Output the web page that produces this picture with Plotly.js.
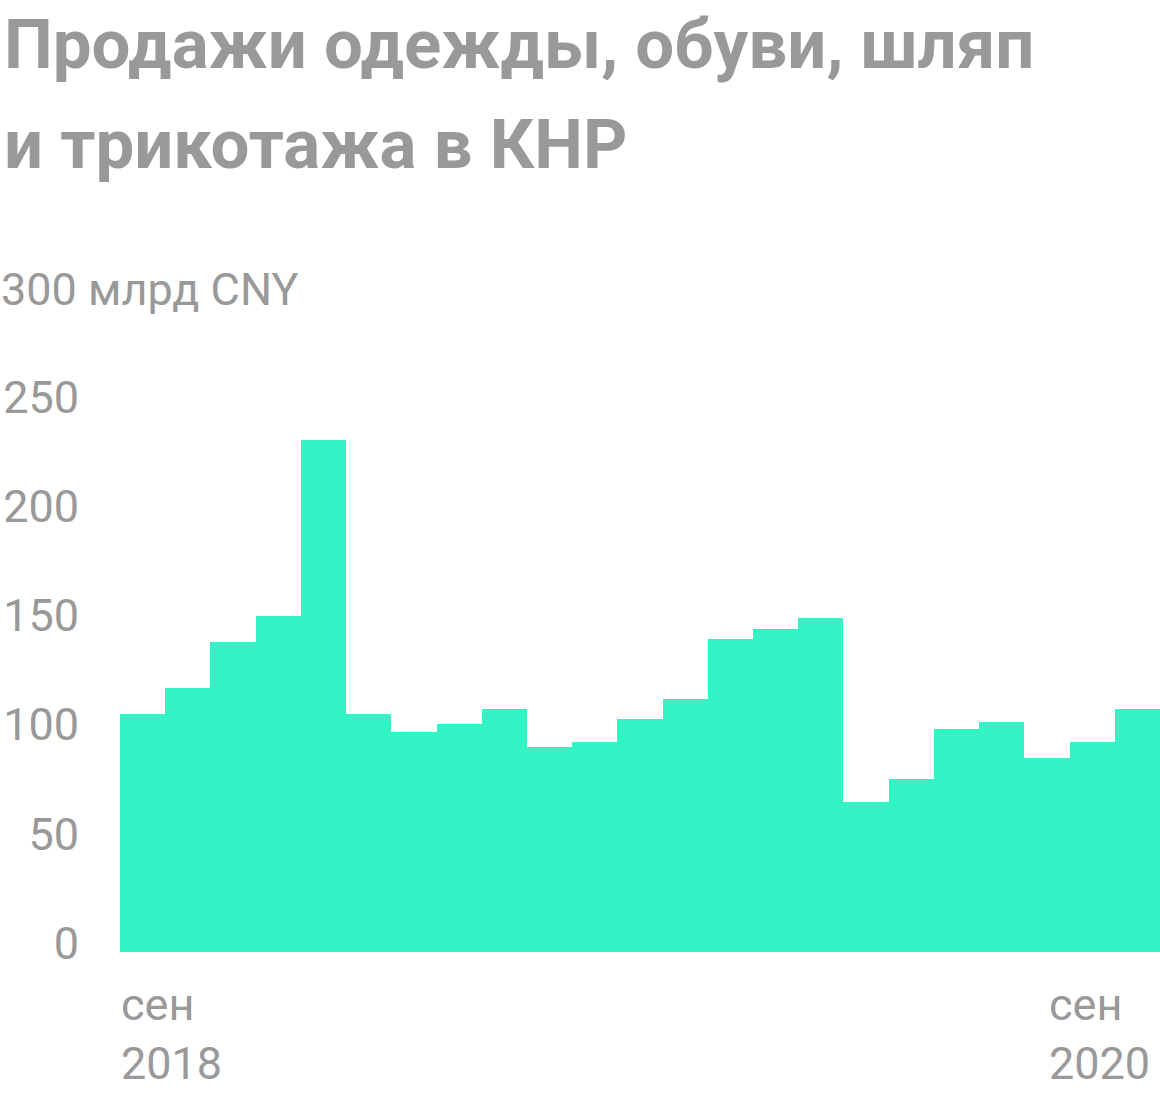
<!DOCTYPE html>
<html>
<head>
<meta charset="utf-8">
<script src="https://cdn.plot.ly/plotly-3.0.1.min.js"></script>
<style>
  html, body { margin: 0; padding: 0; background: #fff; }
  #chart { width: 1160px; height: 1096px; }
</style>
</head>
<body>
<div id="chart"></div>
<script>
// Months (Jan–Feb are reported together)
const categories = [
  'сен 2018', 'окт 2018', 'ноя 2018', 'дек 2018', 'янв–фев 2019',
  'мар 2019', 'апр 2019', 'май 2019', 'июн 2019', 'июл 2019', 'авг 2019',
  'сен 2019', 'окт 2019', 'ноя 2019', 'дек 2019', 'янв–фев 2020',
  'мар 2020', 'апр 2020', 'май 2020', 'июн 2020', 'июл 2020', 'авг 2020', 'сен 2020'
];
// Sales, bn CNY
const sales = [
  109.1, 120.8, 142.2, 154.1, 234.6,
  109.1, 100.8, 104.4, 111.4, 93.8, 96.1,
  106.6, 116.1, 143.4, 148.0, 152.9,
  68.7, 79.4, 102.1, 105.4, 89.0, 96.1, 111.4
];
const yTickVals = [0, 50, 100, 150, 200, 250];
const yTickText = ['0', '50', '100', '150', '200', '250'];
const yTopLabel = '300 млрд CNY';
const yTopValue = 300;
const xStartLabel = 'сен<br>2018';
const xEndLabel = 'сен<br>2020';
const titleLines = ['Продажи одежды, обуви, шляп', 'и трикотажа в КНР'];

const xIdx = categories.map((_, i) => i);
const n = categories.length;

const grey = '#999999';
const font = 'Roboto, "Noto Sans", sans-serif';
const plotTop = 297, plotBottom = 952, plotH = plotBottom - plotTop;
const pxToPaperY = p => (plotBottom - p) / plotH;

const trace = {
  type: 'bar',
  x: xIdx,
  y: sales,
  customdata: categories,
  hovertemplate: '%{customdata}: %{y} млрд CNY<extra></extra>',
  marker: { color: '#33F4C4', line: { width: 0 } }
};

const titleFont = { family: font, size: 69, weight: 700, color: grey };

const layout = {
  width: 1160,
  height: 1096,
  paper_bgcolor: '#ffffff',
  plot_bgcolor: '#ffffff',
  margin: { l: 120, r: 0, t: plotTop, b: 1096 - plotBottom, pad: 0 },
  showlegend: false,
  bargap: 0,
  font: { family: font, color: grey, size: 45 },
  xaxis: {
    range: [-0.5, n - 0.5],
    showgrid: false, zeroline: false, showline: false,
    showticklabels: false, ticks: '', fixedrange: true
  },
  yaxis: {
    range: [0, 300],
    tickvals: yTickVals,
    ticktext: yTickText,
    showgrid: false, zeroline: false, showline: false,
    ticks: '',
    ticklabelstandoff: 40,
    ticklabelshift: -9,
    tickfont: { family: font, size: 45, color: grey },
    fixedrange: true
  },
  annotations: [
    {
      text: titleLines[0], xref: 'paper', yref: 'paper',
      x: -117 / 1040, y: pxToPaperY(45), xanchor: 'left', yanchor: 'middle',
      showarrow: false, borderpad: 0, font: titleFont
    },
    {
      text: titleLines[1], xref: 'paper', yref: 'paper',
      x: -117 / 1040, y: pxToPaperY(145), xanchor: 'left', yanchor: 'middle',
      showarrow: false, borderpad: 0, font: titleFont
    },
    {
      text: yTopLabel, xref: 'paper', yref: 'y',
      x: -120 / 1040, y: yTopValue, xanchor: 'left', yanchor: 'middle',
      yshift: 8, showarrow: false, borderpad: 0,
      font: { family: font, size: 45, color: grey }
    },
    {
      text: xStartLabel, xref: 'x', yref: 'paper',
      x: -0.5, y: 0, xanchor: 'left', yanchor: 'top', align: 'left',
      yshift: -25, showarrow: false, borderpad: 0,
      font: { family: font, size: 45, color: grey }
    },
    {
      text: xEndLabel, xref: 'x', yref: 'paper',
      x: n - 0.5, y: 0, xanchor: 'right', yanchor: 'top', align: 'left',
      xshift: -9, yshift: -25, showarrow: false, borderpad: 0,
      font: { family: font, size: 45, color: grey }
    }
  ]
};

Plotly.newPlot('chart', [trace], layout, { displayModeBar: false, staticPlot: true });
</script>
</body>
</html>
